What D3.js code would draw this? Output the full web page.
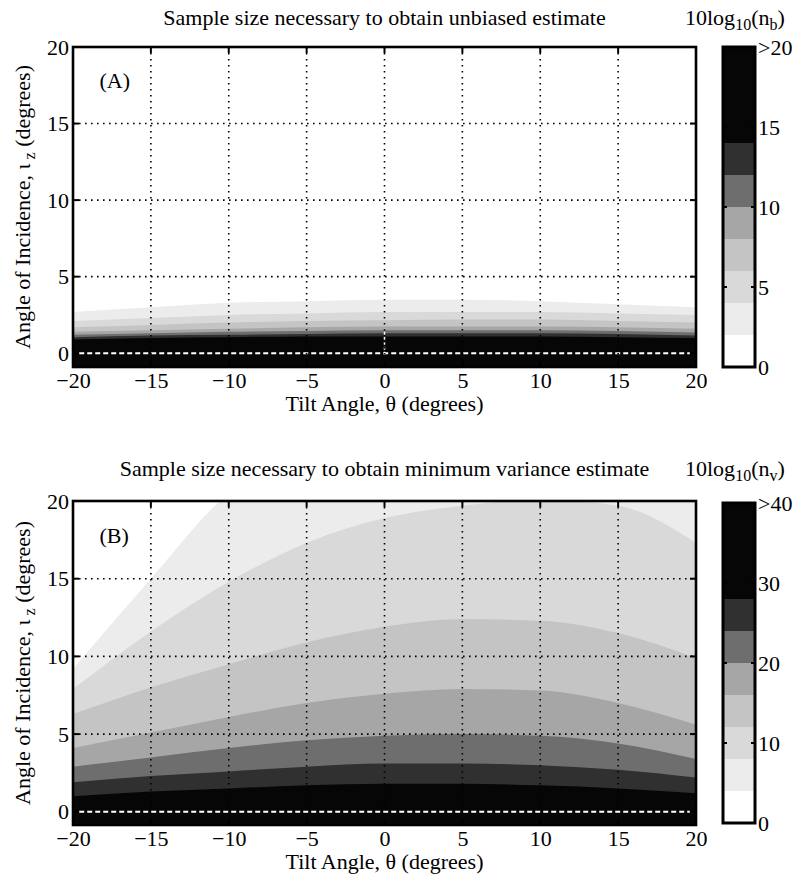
<!DOCTYPE html>
<html>
<head>
<meta charset="utf-8">
<script src="https://cdn.jsdelivr.net/npm/d3@7"></script>
<style>
  html, body { margin: 0; padding: 0; background: #fff; }
  svg { display: block; }
  text { font-family: "Liberation Serif", "Times New Roman", serif; fill: #000; }
</style>
</head>
<body>
<svg id="chart" width="797" height="876"></svg>
<script>
// Tilt angles (degrees) at which each contour boundary is sampled
const tiltAngles = [-20, -15, -10, -5, 0, 5, 10, 15, 20];

// Panel A: 10log10(n_b) contour levels and the incidence angle of each level
const levelsA = [2, 4, 6, 8, 10, 12, 14];
const contourA2  = [2.7, 3.0, 3.3, 3.4, 3.5, 3.5, 3.4, 3.2, 3.0];
const contourA4  = [2.1, 2.3, 2.5, 2.6, 2.7, 2.7, 2.7, 2.6, 2.5];
const contourA6  = [1.7, 1.85, 2.0, 2.1, 2.15, 2.2, 2.2, 2.1, 2.0];
const contourA8  = [1.4, 1.5, 1.6, 1.7, 1.75, 1.75, 1.75, 1.7, 1.6];
const contourA10 = [1.2, 1.3, 1.4, 1.45, 1.5, 1.5, 1.5, 1.45, 1.35];
const contourA12 = [1.05, 1.15, 1.2, 1.25, 1.3, 1.3, 1.3, 1.25, 1.15];
const contourA14 = [0.9, 1.0, 1.05, 1.1, 1.1, 1.1, 1.1, 1.05, 1.0];

// Panel B: 10log10(n_v) contour levels
const levelsB = [4, 8, 12, 16, 20, 24, 28];
const contourB4  = [9.2, 15.0, 20.5, 23.0, 24.5, 25.0, 24.5, 23.5, 22.0];
const contourB8  = [7.9, 11.6, 14.8, 17.3, 18.9, 19.7, 20.1, 19.7, 17.3];
const contourB12 = [6.3, 8.0, 9.5, 10.9, 11.9, 12.4, 12.3, 11.5, 9.9];
const contourB16 = [4.1, 5.1, 6.1, 7.0, 7.6, 7.9, 7.8, 7.0, 5.6];
const contourB20 = [2.9, 3.5, 4.1, 4.6, 4.9, 5.0, 4.9, 4.4, 3.4];
const contourB24 = [1.9, 2.3, 2.6, 2.9, 3.1, 3.1, 3.0, 2.7, 2.2];
const contourB28 = [1.0, 1.3, 1.5, 1.7, 1.8, 1.8, 1.7, 1.5, 1.2];

// Axis ticks
const tiltTicks = [-20, -15, -10, -5, 0, 5, 10, 15, 20];
const incidenceTicks = [0, 5, 10, 15, 20];
const colorbarTicksA = [0, 5, 10, 15, 20];
const colorbarLabelsA = ["0", "5", "10", "15", ">20"];
const colorbarTicksB = [0, 10, 20, 30, 40];
const colorbarLabelsB = ["0", "10", "20", "30", ">40"];

// Gray shades, lightest (below first level) to darkest (above last level)
const grayShades = ["#ffffff", "#ececec", "#d9d9d9", "#c4c4c4", "#a6a6a6", "#6e6e6e", "#303030", "#060606"];

const svg = d3.select("#chart");
const FONT = 22;
const SUB = 16;
const SERIF = '"Liberation Serif", "Times New Roman", serif';

function drawPanel(cfg) {
  const g = svg.append("g");
  const x = d3.scaleLinear().domain([-20, 20]).range([cfg.left, cfg.right]);
  const y = d3.scaleLinear().domain([cfg.yMin, 20]).range([cfg.bottom, cfg.top]);
  const shade = d3.scaleThreshold().domain(cfg.levels).range(grayShades);

  const clipId = "clip" + cfg.id;
  svg.append("clipPath").attr("id", clipId)
    .append("rect")
    .attr("x", cfg.left).attr("y", cfg.top)
    .attr("width", cfg.right - cfg.left).attr("height", cfg.bottom - cfg.top);

  const plot = g.append("g").attr("clip-path", `url(#${clipId})`);

  // lowest band fills the whole plot
  plot.append("rect")
    .attr("x", cfg.left).attr("y", cfg.top)
    .attr("width", cfg.right - cfg.left).attr("height", cfg.bottom - cfg.top)
    .attr("fill", shade(cfg.levels[0] - 1));

  // each level fills everything beneath its boundary
  const area = d3.area()
    .x(d => x(d[0]))
    .y0(y(cfg.yMin))
    .y1(d => y(d[1]))
    .curve(d3.curveMonotoneX);

  cfg.contours.forEach((vals, i) => {
    const pts = tiltAngles.map((t, j) => [t, vals[j]]);
    plot.append("path")
      .attr("d", area(pts))
      .attr("fill", shade(cfg.levels[i]));
  });

  // undefined row at zero incidence
  plot.append("line")
    .attr("x1", x(-19.6)).attr("x2", x(19.6))
    .attr("y1", y(0)).attr("y2", y(0))
    .attr("stroke", "#fff").attr("stroke-width", 2)
    .attr("stroke-dasharray", "5,3");

  if (cfg.zeroTiltMark) {
    plot.append("line")
      .attr("x1", x(0)).attr("x2", x(0))
      .attr("y1", y(-0.1)).attr("y2", y(1.6))
      .attr("stroke", "#fff").attr("stroke-width", 1.5)
      .attr("stroke-dasharray", "3,2");
  }

  // dotted grid
  const grid = plot.append("g")
    .attr("stroke", "#000").attr("stroke-width", 1.6)
    .attr("stroke-dasharray", "1.6,4.4");
  tiltTicks.slice(1, -1).forEach(t => {
    grid.append("line")
      .attr("x1", x(t)).attr("x2", x(t))
      .attr("y1", cfg.top).attr("y2", cfg.bottom);
  });
  incidenceTicks.slice(1, -1).forEach(v => {
    grid.append("line")
      .attr("x1", cfg.left).attr("x2", cfg.right)
      .attr("y1", y(v)).attr("y2", y(v));
  });

  // inward ticks on all four sides
  const ticks = g.append("g").attr("stroke", "#000").attr("stroke-width", 2);
  tiltTicks.forEach(t => {
    ticks.append("line").attr("x1", x(t)).attr("x2", x(t))
      .attr("y1", cfg.top).attr("y2", cfg.top + 6);
    ticks.append("line").attr("x1", x(t)).attr("x2", x(t))
      .attr("y1", cfg.bottom).attr("y2", cfg.bottom - 6);
  });
  incidenceTicks.forEach(v => {
    ticks.append("line").attr("x1", cfg.left).attr("x2", cfg.left + 6)
      .attr("y1", y(v)).attr("y2", y(v));
    ticks.append("line").attr("x1", cfg.right).attr("x2", cfg.right - 6)
      .attr("y1", y(v)).attr("y2", y(v));
  });

  // frame
  g.append("rect")
    .attr("x", cfg.left).attr("y", cfg.top)
    .attr("width", cfg.right - cfg.left).attr("height", cfg.bottom - cfg.top)
    .attr("fill", "none").attr("stroke", "#000").attr("stroke-width", 2.6);

  // tick labels via d3 axes (lines hidden, text kept)
  const xAxis = g.append("g")
    .attr("transform", `translate(0,${cfg.bottom})`)
    .call(d3.axisBottom(x).tickValues(tiltTicks).tickSize(0).tickPadding(5));
  xAxis.attr("font-family", SERIF).attr("font-size", FONT);
  xAxis.select(".domain").remove();

  const yAxis = g.append("g")
    .attr("transform", `translate(${cfg.left},0)`)
    .call(d3.axisLeft(y).tickValues(incidenceTicks).tickSize(0).tickPadding(4));
  yAxis.attr("font-family", SERIF).attr("font-size", FONT);
  yAxis.select(".domain").remove();

  // titles and labels
  g.append("text")
    .attr("x", (cfg.left + cfg.right) / 2).attr("y", cfg.top - cfg.titleGap)
    .attr("text-anchor", "middle").style("font-size", FONT + "px")
    .text(cfg.title);

  g.append("text")
    .attr("x", (cfg.left + cfg.right) / 2).attr("y", cfg.bottom + 44)
    .attr("text-anchor", "middle").style("font-size", FONT + "px")
    .text("Tilt Angle, θ (degrees)");

  const yl = g.append("text")
    .attr("transform", `translate(30,${(cfg.top + cfg.bottom) / 2}) rotate(-90)`)
    .attr("text-anchor", "middle").style("font-size", FONT + "px");
  yl.append("tspan").text("Angle of Incidence, ι");
  yl.append("tspan").attr("dy", 5).style("font-size", SUB + "px").text(" z");
  yl.append("tspan").attr("dy", -5).text(" (degrees)");

  g.append("text")
    .attr("x", x(-18.3)).attr("y", y(17.3))
    .style("font-size", FONT + "px")
    .text(cfg.tag);

  // colour bar
  const cb = cfg.colorbar;
  const cy = d3.scaleLinear().domain([0, cb.max]).range([cb.bottom, cb.top]);
  const edges = [0, ...cfg.levels, cb.max];
  const cbg = svg.append("g");
  for (let i = 0; i < edges.length - 1; i++) {
    cbg.append("rect")
      .attr("x", cb.left).attr("width", cb.width)
      .attr("y", cy(edges[i + 1])).attr("height", cy(edges[i]) - cy(edges[i + 1]))
      .attr("fill", shade((edges[i] + edges[i + 1]) / 2));
  }
  cb.ticks.forEach(v => {
    cbg.append("line").attr("x1", cb.left).attr("x2", cb.left + 4)
      .attr("y1", cy(v)).attr("y2", cy(v)).attr("stroke", "#000").attr("stroke-width", 2);
    cbg.append("line").attr("x1", cb.left + cb.width).attr("x2", cb.left + cb.width - 4)
      .attr("y1", cy(v)).attr("y2", cy(v)).attr("stroke", "#000").attr("stroke-width", 2);
  });
  cbg.append("rect")
    .attr("x", cb.left).attr("y", cb.top)
    .attr("width", cb.width).attr("height", cb.bottom - cb.top)
    .attr("fill", "none").attr("stroke", "#000").attr("stroke-width", 3);
  cb.ticks.forEach((v, i) => {
    cbg.append("text")
      .attr("x", cb.left + cb.width + 3).attr("y", cy(v))
      .attr("dy", "0.35em").style("font-size", FONT + "px")
      .text(cb.labels[i]);
  });
  const ct = cbg.append("text")
    .attr("x", cb.left - 38).attr("y", cfg.top - cfg.titleGap)
    .style("font-size", FONT + "px");
  ct.append("tspan").text("10log");
  ct.append("tspan").attr("dy", 5).style("font-size", SUB + "px").text("10");
  ct.append("tspan").attr("dy", -5).text("(n");
  ct.append("tspan").attr("dy", 5).style("font-size", SUB + "px").text(cb.sub);
  ct.append("tspan").attr("dy", -5).text(")");
}

drawPanel({
  id: "A", left: 73, right: 696, top: 47, bottom: 367, yMin: -0.9, titleGap: 22,
  levels: levelsA,
  contours: [contourA2, contourA4, contourA6, contourA8, contourA10, contourA12, contourA14],
  title: "Sample size necessary to obtain unbiased estimate",
  tag: "(A)", zeroTiltMark: true,
  colorbar: { left: 723, width: 32, top: 47, bottom: 367, max: 20,
              ticks: colorbarTicksA, labels: colorbarLabelsA, sub: "b" }
});

drawPanel({
  id: "B", left: 73, right: 696, top: 501, bottom: 825, yMin: -0.85, titleGap: 25,
  levels: levelsB,
  contours: [contourB4, contourB8, contourB12, contourB16, contourB20, contourB24, contourB28],
  title: "Sample size necessary to obtain minimum variance estimate",
  tag: "(B)", zeroTiltMark: false,
  colorbar: { left: 723, width: 32, top: 503, bottom: 823, max: 40,
              ticks: colorbarTicksB, labels: colorbarLabelsB, sub: "v" }
});
</script>
</body>
</html>
